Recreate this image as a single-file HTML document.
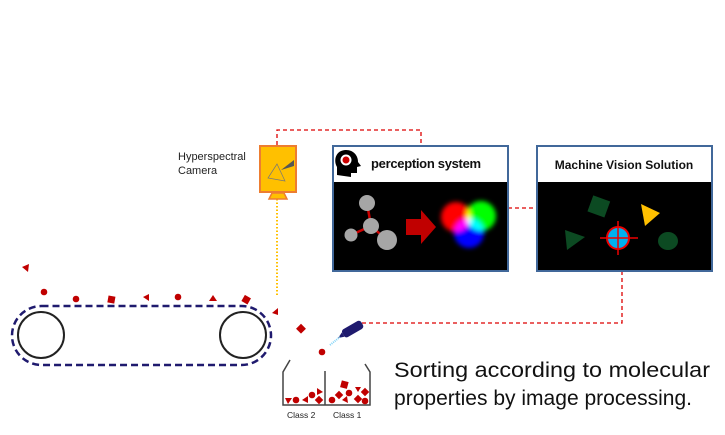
<!DOCTYPE html>
<html><head><style>body{margin:0;background:#fff}svg{display:block}</style></head><body>
<svg width="725" height="435" viewBox="0 0 725 435" xmlns="http://www.w3.org/2000/svg" font-family="Liberation Sans, sans-serif">
<defs>
<filter id="bl" x="-50%" y="-50%" width="200%" height="200%"><feGaussianBlur stdDeviation="2.5"/></filter>
</defs>
<path d="M277 145 V130 H421 V145" fill="none" stroke="#d00" stroke-width="1.3" stroke-dasharray="4,3"/>
<path d="M508 208 H536" fill="none" stroke="#d00" stroke-width="1.3" stroke-dasharray="4,3"/>
<path d="M622 271 V323 H360" fill="none" stroke="#d00" stroke-width="1.3" stroke-dasharray="4,3"/>
<path d="M277 199 V296" fill="none" stroke="#ffc000" stroke-width="2" stroke-dasharray="1.5,2"/>
<rect x="260" y="146" width="36" height="46" fill="#ffc000" stroke="#ed7d31" stroke-width="2"/>
<path d="M269 199 L272 193 H284 L287 199 Z" fill="#ffc000" stroke="#ed7d31" stroke-width="1.5"/>
<path d="M277 164 L268 178 L285 181 Z" fill="none" stroke="#777" stroke-width="0.7"/>
<path d="M281 170 L294 160 L294 166 Z" fill="#555"/>
<text x="178" y="160" font-size="11" fill="#222">Hyperspectral</text>
<text x="178" y="174" font-size="11" fill="#222">Camera</text>
<rect x="333" y="146" width="175" height="125" fill="#000" stroke="#41689a" stroke-width="2"/>
<rect x="334" y="147" width="173" height="35" fill="#fff"/>
<path d="M337 175 V167 C333 160 336 150 346 150 C354 150 358 156 358 162 L361 166 L357 167 L357 173 L351 173 L351 177 Z" fill="#000"/>
<circle cx="346" cy="160" r="5.5" fill="#fff"/><circle cx="346" cy="160" r="3.5" fill="#c00"/>
<text x="371" y="168" font-size="13" font-weight="bold" fill="#111" letter-spacing="-0.3">perception system</text>
<g stroke="#c00" stroke-width="2.5"><line x1="367" y1="203" x2="371" y2="226"/><line x1="351" y1="235" x2="371" y2="226"/><line x1="371" y1="226" x2="387" y2="240"/></g>
<g fill="#a6a6a6"><circle cx="367" cy="203" r="8"/><circle cx="371" cy="226" r="8"/><circle cx="351" cy="235" r="6.5"/><circle cx="387" cy="240" r="10"/></g>
<path d="M406 219 H421 V210 L436 227 L421 244 V235 H406 Z" fill="#c00000"/>
<g filter="url(#bl)" style="isolation:isolate">
<circle cx="456" cy="217" r="15" fill="#f00" style="mix-blend-mode:screen"/>
<circle cx="481" cy="216" r="15" fill="#0f0" style="mix-blend-mode:screen"/>
<circle cx="469" cy="233" r="15" fill="#00f" style="mix-blend-mode:screen"/>
</g>
<rect x="537" y="146" width="175" height="125" fill="#000" stroke="#41689a" stroke-width="2"/>
<rect x="538" y="147" width="173" height="35" fill="#fff"/>
<text x="624" y="169" font-size="12" font-weight="bold" fill="#111" text-anchor="middle">Machine Vision Solution</text>
<rect x="590" y="198" width="18" height="17" fill="#0c4a22" transform="rotate(20 599 206)"/>
<path d="M641 204 L660 213 L645 226 Z" fill="#ffc000"/>
<path d="M565 230 L585 237 L567 250 Z" fill="#0c4a22"/>
<ellipse cx="668" cy="241" rx="10" ry="9" fill="#0c4a22"/>
<circle cx="618" cy="238" r="11" fill="#00b0f0" stroke="#e00" stroke-width="2"/>
<g stroke="#e00" stroke-width="1.5"><line x1="600" y1="238" x2="638" y2="238"/><line x1="618" y1="221" x2="618" y2="255"/></g>
<rect x="12" y="306" width="259" height="59" rx="29.5" fill="none" stroke="#1f1a6e" stroke-width="2.5" stroke-dasharray="7,4"/>
<circle cx="41" cy="335" r="23" fill="none" stroke="#222" stroke-width="2"/>
<circle cx="243" cy="335" r="23" fill="none" stroke="#222" stroke-width="2"/>
<g fill="#c00000">
<path d="M22 267 L29 264 L28 272 Z"/>
<circle cx="44" cy="292" r="3.3"/><circle cx="76" cy="299" r="3.3"/>
<rect x="108" y="296" width="7" height="7" transform="rotate(10 111 299)"/>
<path d="M143 297 L149 294 L149 301 Z"/>
<circle cx="178" cy="297" r="3.3"/>
<path d="M209 301 L213 295 L217 301 Z"/>
<rect x="243" y="296" width="7" height="7" transform="rotate(30 246 299)"/>
<path d="M272 313 L278 308 L278 315 Z"/>
<rect x="298" y="325" width="7" height="7" transform="rotate(45 301 328)"/>
<circle cx="322" cy="352" r="3.3"/>
</g>
<g transform="rotate(-30 352 330)"><rect x="342" y="325" width="22" height="9" rx="3" fill="#1f1a6e"/><path d="M342 327 L336 330 L342 332 Z" fill="#1f1a6e"/></g>
<path d="M330 345 L340 337" stroke="#7fd3f7" stroke-width="2" stroke-dasharray="1,1"/>
<g fill="none" stroke="#444" stroke-width="1.5">
<path d="M290 360 L283 372 V405 H370 V372 L365 364"/>
<line x1="325" y1="371" x2="325" y2="405"/>
</g>
<g fill="#c00000">
<path d="M285 398 L292 398 L288 404 Z"/><circle cx="296" cy="400" r="3.3"/><path d="M302 400 L308 396 L308 403 Z"/>
<circle cx="312" cy="395" r="3.3"/><path d="M317 388 L323 392 L317 395 Z"/><rect x="316" y="397" width="6" height="6" transform="rotate(45 319 400)"/>
<circle cx="332" cy="400" r="3.3"/><rect x="336" y="392" width="6" height="6" transform="rotate(45 339 395)"/>
<rect x="341" y="381" width="7" height="7" transform="rotate(15 344 384)"/><circle cx="349" cy="393" r="3.3"/>
<path d="M355 387 L361 387 L358 392 Z"/><rect x="355" y="396" width="6" height="6" transform="rotate(45 358 399)"/>
<rect x="362" y="389" width="6" height="6" transform="rotate(45 365 392)"/><circle cx="365" cy="401" r="3.3"/>
<path d="M342 400 L347 396 L348 403 Z"/>
</g>
<text x="287" y="418" font-size="8.5" fill="#222">Class 2</text>
<text x="333" y="418" font-size="8.5" fill="#222">Class 1</text>
<text x="394" y="377" font-size="21" fill="#111" textLength="316" lengthAdjust="spacingAndGlyphs">Sorting according to molecular</text>
<text x="394" y="405" font-size="21" fill="#111" textLength="298" lengthAdjust="spacingAndGlyphs">properties by image processing.</text>
</svg>
</body></html>
